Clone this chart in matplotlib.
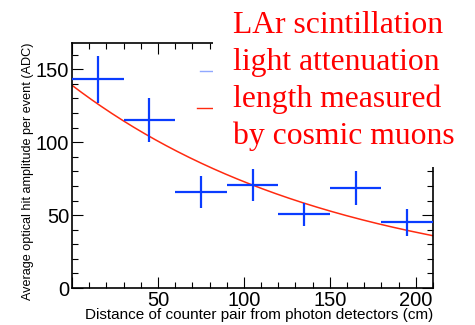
import numpy as np
import matplotlib
matplotlib.use("Agg")
import matplotlib.pyplot as plt
from matplotlib.ticker import MultipleLocator, FuncFormatter
from matplotlib.patches import Rectangle
from matplotlib.lines import Line2D

# data
distance = [15, 45, 75, 105, 135, 165, 195]
distance_err = [15, 15, 15, 15, 15, 15, 15]
amplitude = [143, 115, 66, 70.5, 50.5, 68.5, 45]
amplitude_err = [16, 15, 11, 11, 8, 11.5, 9.5]
fit_A = 139.0      # ADC at 0 cm
fit_L = 155.0      # attenuation length (cm)
annotation = ["LAr scintillation", "light attenuation", "length measured", "by cosmic muons"]

W, H = 475, 325
fig = plt.figure(figsize=(W/100, H/100), dpi=100)
ax = fig.add_axes([72/W, 1-288/H, (433-72)/W, (288-43)/H])

blue = "#0a3cff"
red = "#ff2a10"
ax.errorbar(distance, amplitude, xerr=distance_err, yerr=amplitude_err,
            fmt="none", ecolor=blue, elinewidth=1.6, capsize=0, zorder=3)
xf = np.linspace(0, 210, 300)
ax.plot(xf, fit_A*np.exp(-xf/fit_L), color=red, lw=1.1, zorder=2)

ax.set_xlim(0, 210)
ax.set_ylim(0, 168)
ax.xaxis.set_major_locator(MultipleLocator(50))
ax.xaxis.set_minor_locator(MultipleLocator(10))
ax.xaxis.set_major_formatter(FuncFormatter(lambda v, p: "" if abs(v) < 1e-9 else f"{v:g}"))
ax.yaxis.set_major_locator(MultipleLocator(50))
ax.yaxis.set_minor_locator(MultipleLocator(10))
ax.tick_params(which="both", direction="in", top=True, right=True,
               labelsize=14.5, width=0.8)
ax.tick_params(axis="x", pad=2)
ax.tick_params(axis="y", pad=2)
ax.tick_params(which="major", length=8)
ax.tick_params(which="minor", length=4)
for lab in ax.get_xticklabels() + ax.get_yticklabels():
    lab.set_fontfamily("Liberation Sans")
for s in ax.spines.values():
    s.set_linewidth(1.2)

ax.set_xlabel("Distance of counter pair from photon detectors (cm)",
              fontsize=11, family="Liberation Sans", loc="right", labelpad=-1)
ax.set_ylabel("Average optical hit amplitude per event (ADC)",
              fontsize=9.1, family="Liberation Sans", loc="top", labelpad=1)

# legend remnants (partially covered)
fig.add_artist(Line2D([200/W, 214/W], [1-71/H, 1-71/H], color="#90a8ff", lw=1.0))
fig.add_artist(Line2D([197/W, 214/W], [1-108/H, 1-108/H], color=red, lw=1.0))

# white box covering top-right
fig.add_artist(Rectangle((213/W, 1-167/H), 1-213/W, 167/H,
                         transform=fig.transFigure, facecolor="white",
                         edgecolor="none", zorder=5))
for i, line in enumerate(annotation):
    fig.text(233/W, 1-(33+37*i)/H, line, color="#ff0000", fontsize=22.8,
             family="Liberation Serif", ha="left", va="baseline", zorder=6)

fig.savefig("out.png", dpi=100)
